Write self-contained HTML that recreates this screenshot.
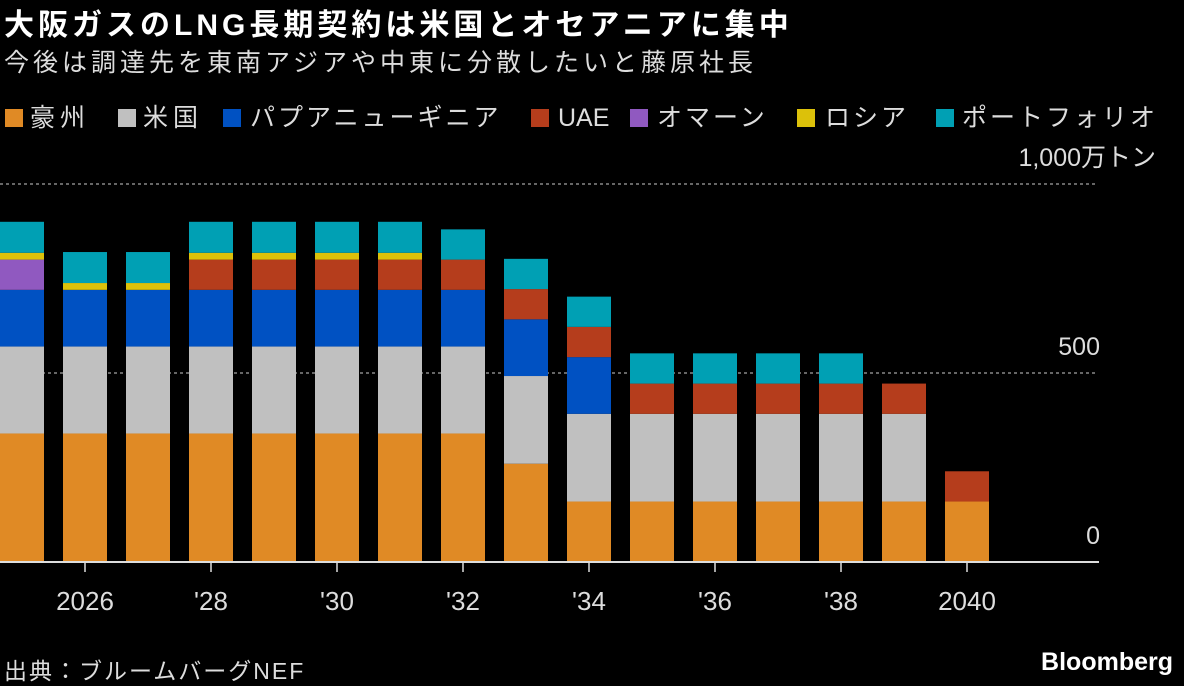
<!DOCTYPE html>
<html><head><meta charset="utf-8"><style>
body{margin:0;background:#000;width:1184px;height:686px;overflow:hidden;font-family:"Liberation Sans","Noto Sans CJK JP",sans-serif;color:#fff;position:relative}
.t{position:absolute;white-space:nowrap}
.sq{position:absolute;top:109px;width:18px;height:18px}
.lt{position:absolute;top:103px;font-size:25px;line-height:30px;color:#ddd;white-space:nowrap;letter-spacing:3px}
</style></head><body>
<div class="t" style="left:4px;top:0px;font-size:30px;font-weight:bold;letter-spacing:4px">大阪ガスのLNG長期契約は米国とオセアニアに集中</div>
<div class="t" style="left:4px;top:43px;font-size:25px;color:#ddd;letter-spacing:4px">今後は調達先を東南アジアや中東に分散したいと藤原社長</div>
<div class="sq" style="left:5px;background:#e08a25"></div><div class="lt" style="left:30px;letter-spacing:5px">豪州</div>
<div class="sq" style="left:118px;background:#c0c0c0"></div><div class="lt" style="left:143px;letter-spacing:5px">米国</div>
<div class="sq" style="left:223px;background:#0051c2"></div><div class="lt" style="left:250px">パプアニューギニア</div>
<div class="sq" style="left:531px;background:#b53d1c"></div><div class="lt" style="left:558px;letter-spacing:0">UAE</div>
<div class="sq" style="left:630px;background:#9059c0"></div><div class="lt" style="left:657px">オマーン</div>
<div class="sq" style="left:797px;background:#dcc10a"></div><div class="lt" style="left:825px">ロシア</div>
<div class="sq" style="left:936px;background:#00a0b4"></div><div class="lt" style="left:962px">ポートフォリオ</div>
<svg id="c" width="1184" height="686" style="position:absolute;left:0;top:0"></svg>
<div class="t" style="left:4px;top:652px;font-size:23px;color:#ddd;letter-spacing:2px">出典：ブルームバーグNEF</div>
<div class="t" style="right:11px;top:648px;font-size:25px;font-weight:bold">Bloomberg</div>
<script>
const years=[2025,2026,2027,2028,2029,2030,2031,2032,2033,2034,2035,2036,2037,2038,2039,2040];
const australia=[340,340,340,340,340,340,340,340,260,160,160,160,160,160,160,160];
const usa=[230,230,230,230,230,230,230,230,232,232,232,232,232,232,232,0];
const png=[150,150,150,150,150,150,150,150,150,150,0,0,0,0,0,0];
const uae=[0,0,0,80,80,80,80,80,80,80,80,80,80,80,80,80];
const oman=[80,0,0,0,0,0,0,0,0,0,0,0,0,0,0,0];
const russia=[18,18,18,18,18,18,18,0,0,0,0,0,0,0,0,0];
const portfolio=[82,82,82,82,82,82,82,80,80,80,80,80,80,80,0,0];
const yTicks=[0,500,1000];
const yTickLabels=["0","500","1,000万トン"];
const xLabels={2026:"2026",2028:"'28",2030:"'30",2032:"'32",2034:"'34",2036:"'36",2038:"'38",2040:"2040"};
const series=[[australia,"#e08a25","australia"],[usa,"#c0c0c0","usa"],[png,"#0051c2","png"],[uae,"#b53d1c","uae"],[oman,"#9059c0","oman"],[russia,"#dcc10a","russia"],[portfolio,"#00a0b4","portfolio"]];
const svg=document.getElementById('c');const NS='http://www.w3.org/2000/svg';
const FF='"Liberation Sans","Noto Sans CJK JP",sans-serif';
const y=v=>562-v*0.378;const x=i=>i*63;const bw=44;
function mk(t,a){const e=document.createElementNS(NS,t);for(const k in a)e.setAttribute(k,a[k]);svg.appendChild(e);return e;}
yTicks.forEach((v,i)=>{
 if(v>0){const g=mk('line',{x1:0,x2:1098,y1:y(v),y2:y(v),stroke:'#888','stroke-width':1.5,'stroke-dasharray':'3,3'});
 
 }
 const t=mk('text',{x:v===1000?1156:1100,y:y(v)-18,'text-anchor':'end',fill:'#ddd','font-size':25,'font-family':FF});t.textContent=yTickLabels[i];
 
 
});
years.forEach((yr,i)=>{let acc=0;
 series.forEach(([arr,col,nm])=>{const v=arr[i];if(!v)return;
  const r=mk('rect',{x:x(i),y:y(acc+v),width:bw,height:y(acc)-y(acc+v),fill:col});
  
  
  acc+=v;});
 if(xLabels[yr]){const cx=x(i)+bw/2;
  const tk=mk('line',{x1:cx,x2:cx,y1:562,y2:572,stroke:'#ddd','stroke-width':1.5});
  
  
  const t=mk('text',{x:cx,y:610,'text-anchor':'middle',fill:'#ddd','font-size':26,'font-family':FF});t.textContent=xLabels[yr];
  
  }
});
const ax=mk('line',{x1:0,x2:1099,y1:562,y2:562,stroke:'#ddd','stroke-width':2});


</script>
</body></html>
